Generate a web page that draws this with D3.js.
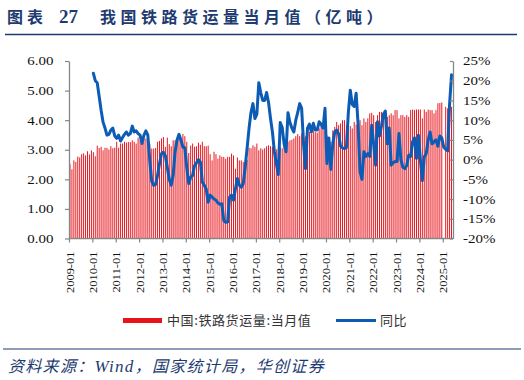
<!DOCTYPE html>
<html><head><meta charset="utf-8">
<script src="https://cdn.jsdelivr.net/npm/d3@7"></script>
<style>
html,body{margin:0;padding:0;background:#fff;}
svg{display:block;}
</style></head><body>
<svg id="chart" width="524" height="380"></svg>
<script>
// ---------- DATA ----------
const firstYear = 2009;
// 中国:铁路货运量:当月值 (亿吨), monthly 2009-01 .. 2025-05
const freight = [
  2.51,2.34,2.64,2.59,2.77,2.74,2.85,2.88,2.81,2.95,2.84,2.98, // 2009
  2.92,2.78,3.14,3.06,3.10,2.98,3.07,3.06,3.01,3.12,3.05,3.07, // 2010
  3.27,3.07,3.21,3.21,3.27,3.24,3.26,3.26,3.32,3.27,3.21,3.41, // 2011
  3.32,3.30,3.37,3.38,3.38,3.20,3.04,3.04,3.06,3.27,3.30,3.38, // 2012
  3.43,3.10,3.41,3.19,3.12,3.32,3.32,3.36,3.49,3.32,3.53,3.46, // 2013
  3.27,2.89,3.14,3.21,3.10,3.12,3.24,3.17,3.27,3.12,3.12,3.14, // 2014
  2.85,2.64,2.93,2.85,2.70,2.81,2.76,2.76,2.70,2.76,2.76,2.87, // 2015
  2.81,2.36,2.74,2.64,2.64,2.59,2.59,2.66,3.07,3.05,3.15,3.10, // 2016
  3.21,2.98,3.05,3.01,3.05,3.12,3.15,3.12,3.10,3.10,3.01,3.05, // 2017
  3.10,3.05,3.15,3.15,3.27,3.32,3.34,3.38,3.46,3.53,3.46,3.55, // 2018
  3.60,3.45,3.58,3.60,3.55,3.66,3.60,3.58,3.72,3.83,3.77,3.66, // 2019
  3.49,3.40,3.27,3.66,3.77,3.94,3.83,3.89,4.00,4.00,3.83,3.77, // 2020
  3.80,3.72,3.94,3.85,3.83,4.00,3.83,4.06,3.94,4.06,4.23,4.25, // 2021
  4.17,3.94,4.17,4.28,4.28,4.11,4.17,4.11,4.17,4.23,4.17,4.34, // 2022
  4.34,4.06,4.17,4.17,4.11,4.17,4.11,4.34,4.36,4.34,4.36,4.36, // 2023
  4.36,4.06,4.36,4.28,4.36,4.34,4.34,4.23,4.34,4.57,4.58,4.60, // 2024
  null,4.45,4.40,4.30,4.45                                     // 2025
];
// 同比 (%), monthly 2010-01 .. 2025-05
const yoyStartIndex = 12;
const yoy = [
  21.9,20.0,19.5,16.0,12.5,9.5,8.0,6.2,6.4,7.5,8.0,6.0,          // 2010
  5.4,6.2,4.7,5.6,6.4,7.0,6.2,6.6,8.5,7.0,7.3,6.6,               // 2011
  6.2,4.1,6.2,7.3,6.2,-0.2,-5.5,-6.5,-6.3,-4.0,-1.0,1.5,         // 2012
  1.9,1.0,-2.0,-5.0,-6.5,-4.0,2.0,5.0,6.4,5.0,3.2,3.0,           // 2013
  -2.0,-6.1,-4.5,-4.0,-1.5,-0.8,0.0,-0.6,-5.7,-6.5,-7.5,-10.8,   // 2014
  -9.0,-9.5,-10.0,-10.3,-11.0,-11.3,-11.2,-15.4,-15.9,-15.8,-9.5,-9.0, // 2015
  -10.3,-7.4,-4.8,-6.5,-7.0,-6.1,-2.0,3.0,8.0,12.0,14.2,10.4,    // 2016
  11.5,19.5,17.0,15.0,15.0,17.0,14.5,10.5,7.0,2.0,-1.0,-3.8,     // 2017
  9.4,8.2,4.0,2.0,11.9,9.4,8.0,7.0,10.0,12.0,14.2,13.0,          // 2018
  4.0,-2.3,8.0,9.0,7.0,9.2,7.5,7.5,9.6,9.0,8.0,13.0,             // 2019
  -1.0,5.5,-2.5,4.0,7.0,7.5,6.5,3.4,3.0,2.8,3.0,12.0,            // 2020
  17.6,14.0,13.5,16.8,9.0,-3.0,-5.0,2.0,0.8,1.5,0.8,8.7,         // 2021
  4.0,-1.4,9.6,6.0,8.5,11.5,12.3,4.0,8.0,-1.4,-0.8,-0.5,         // 2022
  -0.5,6.6,0.0,-1.9,-2.3,-1.5,1.1,0.8,4.5,5.5,0.3,6.2,           // 2023
  0.0,-5.3,0.7,1.5,5.0,7.0,4.0,4.5,5.0,3.4,6.0,5.5,              // 2024
  3.2,2.6,2.2,14.0,21.5                                          // 2025
];
const leftTicks = [0,1,2,3,4,5,6];
const rightTicks = [-20,-15,-10,-5,0,5,10,15,20,25];
const yearTicks = ["2009-01","2010-01","2011-01","2012-01","2013-01","2014-01","2015-01","2016-01",
  "2017-01","2018-01","2019-01","2020-01","2021-01","2022-01","2023-01","2024-01","2025-01"];
const seriesNames = ["中国:铁路货运量:当月值","同比"];
const titleParts = ["图表","27","我国铁路货运量当月值（亿吨）"];
const sourceText = ["资料来源：","Wind","，国家统计局，华创证券"];

// ---------- CHART ----------
const months = freight.map((_, i) => `${firstYear + Math.floor(i/12)}-${String(i%12+1).padStart(2,"0")}`);
const navy = "#1d3b70", red = "#e8141c", blue = "#0c5cb6", axisGray = "#868686";
const svg = d3.select("#chart");

const x = d3.scaleBand().domain(months).range([69, 452.5]).padding(0);
const xi = d3.scaleLinear().domain([0, months.length]).range([69, 452.5]);
const bw = x.bandwidth();
const yL = d3.scaleLinear().domain([0, 6]).range([238.5, 61]);
const yR = d3.scaleLinear().domain([-20, 25]).range([238.5, 61]);

// bars
const barData = freight.map((v, i) => ({m: months[i], v})).filter(d => d.v != null);
svg.append("g").selectAll("rect").data(barData).join("rect")
  .attr("x", d => x(d.m) + bw*0.25)
  .attr("width", bw*0.5)
  .attr("y", d => yL(d.v))
  .attr("height", d => yL(0) - yL(d.v))
  .attr("fill", red);

// line
const lineData = yoy.map((v, i) => ({m: months[i + yoyStartIndex], v}));
svg.append("path").datum(lineData)
  .attr("fill", "none").attr("stroke", blue).attr("stroke-width", 3)
  .attr("stroke-linejoin", "round").attr("stroke-linecap", "round")
  .attr("d", d3.line().x(d => x(d.m) + bw/2).y(d => yR(d.v)));

// left axis
const gL = svg.append("g").attr("transform", "translate(69,0)")
  .call(d3.axisLeft(yL).tickValues(leftTicks).tickFormat(d3.format(".2f")).tickSize(4).tickSizeOuter(0));
gL.select(".domain").attr("stroke", axisGray).attr("stroke-width", 1.3);
gL.selectAll(".tick line").attr("stroke", axisGray).attr("stroke-width", 1.2);
gL.selectAll(".tick text").attr("x", 0).attr("dy", "0.34em")
  .attr("transform", "translate(-15.5,0) scale(1.29,1)")
  .attr("text-anchor", "end")
  .style("font-family", "'Liberation Serif','Times New Roman',serif").style("font-size", "11.6px").attr("fill", "#111");

// right axis
const gR = svg.append("g").attr("transform", "translate(453,0)")
  .call(d3.axisRight(yR).tickValues(rightTicks).tickFormat(d => d + "%").tickSize(-3).tickSizeOuter(0));
gR.select(".domain").attr("stroke", axisGray).attr("stroke-width", 1.3);
gR.selectAll(".tick line").attr("stroke", axisGray).attr("stroke-width", 1.2);
gR.selectAll(".tick text").attr("x", 0).attr("dy", "0.34em")
  .attr("transform", "translate(10,0) scale(1.29,1)")
  .attr("text-anchor", "start")
  .style("font-family", "'Liberation Serif','Times New Roman',serif").style("font-size", "11.6px").attr("fill", "#111");

// bottom axis
const tickIdx = yearTicks.map(t => months.indexOf(t));
const gB = svg.append("g").attr("transform", "translate(0,238.5)")
  .call(d3.axisBottom(xi).tickValues(tickIdx).tickFormat(i => months[i]).tickSize(4).tickSizeOuter(0));
gB.select(".domain").attr("stroke", axisGray).attr("stroke-width", 1.3).attr("d", "M69,0H453");
gB.selectAll(".tick line").attr("stroke", axisGray).attr("stroke-width", 1.2);
gB.selectAll(".tick text").attr("x", 0).attr("y", 0).attr("dy", "0.35em")
  .attr("transform", "translate(0.5,13) rotate(-90) scale(1.25,1)")
  .attr("text-anchor", "end")
  .style("font-family", "'Liberation Serif','Times New Roman',serif").style("font-size", "10px").attr("fill", "#111");

// legend
const lg = svg.append("g").style("font-family", "'Noto Sans CJK SC','Noto Sans',sans-serif").style("font-size", "13px");
lg.append("rect").attr("x", 123).attr("y", 318).attr("width", 39).attr("height", 5).attr("fill", red);
lg.append("text").attr("x", 167).attr("y", 320.5).attr("dy", "0.36em").attr("fill", "#333")
  .style("letter-spacing", "0.6px").text(seriesNames[0]);
lg.append("line").attr("x1", 336).attr("x2", 376).attr("y1", 320.5).attr("y2", 320.5)
  .attr("stroke", blue).attr("stroke-width", 3);
lg.append("text").attr("x", 380).attr("y", 320.5).attr("dy", "0.36em").attr("fill", "#333")
  .style("letter-spacing", "0.6px").text(seriesNames[1]);

// title
const tg = svg.append("g").attr("fill", navy).style("font-weight", "bold");
tg.append("text").attr("x", 7).attr("y", 22.7).style("font-family", "'Noto Sans CJK SC',sans-serif")
  .style("font-size", "16px").style("letter-spacing", "4px").text(titleParts[0]);
tg.append("text").attr("x", 59).attr("y", 22.7).style("font-family", "'Liberation Serif',serif")
  .style("font-size", "19px").text(titleParts[1]);
tg.append("text").attr("x", 100).attr("y", 22.7).style("font-family", "'Noto Sans CJK SC',sans-serif")
  .style("font-size", "16px").style("letter-spacing", "4.5px").text(titleParts[2]);
svg.append("line").attr("x1", 5).attr("x2", 517).attr("y1", 34.5).attr("y2", 34.5)
  .attr("stroke", navy).attr("stroke-width", 1.5);

// source
svg.append("line").attr("x1", 3).attr("x2", 521).attr("y1", 349).attr("y2", 349)
  .attr("stroke", navy).attr("stroke-width", 1.2);
const st = svg.append("text").attr("x", 8).attr("y", 372).attr("fill", navy)
  .style("font-family", "'Noto Sans CJK SC',sans-serif").style("font-size", "16px")
  .style("font-style", "italic").style("letter-spacing", "1.3px");
st.append("tspan").text(sourceText[0]);
st.append("tspan").style("font-family", "'Liberation Serif',serif").style("font-size", "17px").text(sourceText[1]);
st.append("tspan").text(sourceText[2]);
</script>
</body></html>
